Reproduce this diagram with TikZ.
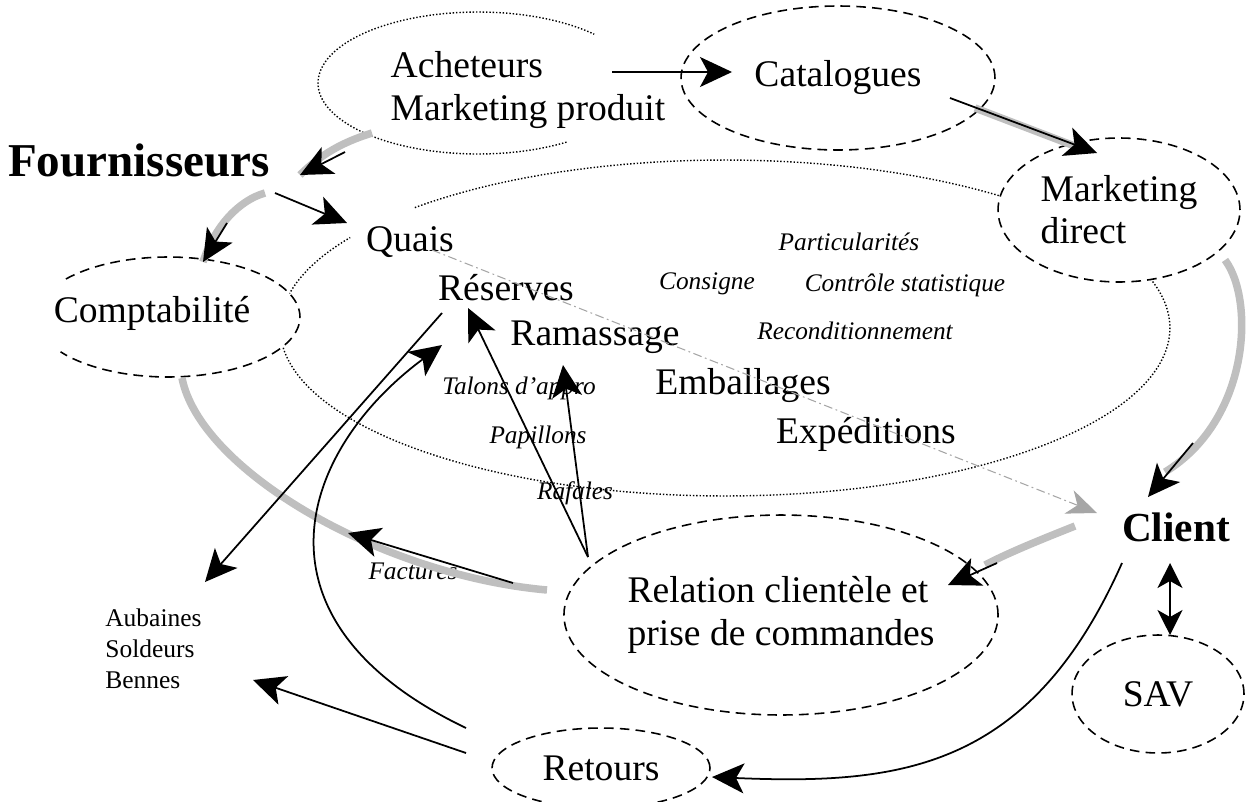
\documentclass[tikz,border=0pt]{standalone}
\usepackage{fontspec}
\setmainfont{Liberation Serif}
\usetikzlibrary{shapes.geometric, arrows.meta}
\tikzset{
>={Stealth[length=6.4mm, width=6mm, inset=1.6mm]}, % big solid arrow heads
every node/.style={inner sep=0pt}, % text sits right on its anchor
word/.style={font=\fontsize{21.4}{24}\selectfont}, % ordinary labels
note/.style={font=\fontsize{14.4}{17}\selectfont\itshape}, % small italic remarks
minor/.style={font=\fontsize{14.5}{17.6}\selectfont}, % small upright text
actor/.style={font=\bfseries}, % outside partners
dashline/.style={line width=0.9pt, dash pattern=on 5.5pt off 3.5pt},
dotline/.style={line width=0.8pt, dash pattern=on 0.8pt off 1.1pt},
oval/.style={ellipse, draw, dashline, word}, % the services
flow/.style={->, line width=1pt}, % black arrows
band/.style={line width=1.5mm, gray!50}, % the grey loop
route/.style={gray!70, line width=0.6pt, dash pattern=on 5pt off 2pt on 1pt off 2pt},
}
\begin{document}
\begin{tikzpicture}[x=0.02cm, y=-0.02cm]
        \useasboundingbox (0,0) rectangle (1247,801);
        % open outlines: warehouse and buyers
        \node[oval, draw=none, minimum width=17.8cm, minimum height=6.72cm] (depot) at (725,328) {};
        \node[oval, draw=none, minimum width=6.4cm, minimum height=2.84cm] (achov) at (478,83) {};
        \draw[dotline] ([shift={(134.2:8.9cm and 3.36cm)}]depot.center) arc[start angle=134.2, end angle=-212.6, x radius=8.9cm, y radius=3.36cm];
        \draw[dotline] ([shift={(-56.4:3.2cm and 1.42cm)}]achov.center) arc[start angle=-56.4, end angle=-316.6, x radius=3.2cm, y radius=1.42cm];
        \node[oval, draw=none, fill=white, minimum width=5.28cm, minimum height=2.4cm] (comp) at (168,317) {};
        \draw[dashline] ([shift={(140.7:2.64cm and 1.2cm)}]comp.center) arc[start angle=140.7, end angle=-144.5, x radius=2.64cm, y radius=1.2cm];
        % services
        \node[oval, minimum width=6.28cm, minimum height=2.88cm] (cat) at (838,78) {Catalogues};
        \node[oval, fill=white, align=left, minimum width=4.84cm, minimum height=2.88cm] (mkt) at (1119,210) {Marketing\\direct};
        \node[oval, align=left, minimum width=4.82cm, minimum height=4cm] (rel) at (781,615) {Relation clientèle et\\prise de commandes};
        \node[oval, minimum width=3.44cm, minimum height=2.36cm] (sav) at (1158,694) {SAV};
        \node[oval, minimum width=4.36cm, minimum height=1.6cm] (ret) at (601,768) {Retours};
        % texts
        \node[word, align=left] (ach) at (528,90) {Acheteurs\\Marketing produit};
        \node[word] (compt) at (152,313) {Comptabilité};
        \node[actor, font=\fontsize{26.8}{30}\selectfont\bfseries] (four) at (139,160) {Fournisseurs};
        \node[actor, font=\fontsize{23.5}{28}\selectfont\bfseries] (cli) at (1176,527) {Client};
        \node[word] (quai) at (410,242) {Quais};
        \node[word] (res) at (506,288) {Réserves};
        \node[word] (ram) at (595,337) {Ramassage};
        \node[word] (emb) at (743,386) {Emballages};
        \node[word] (exp) at (866,434) {Expéditions};
        \node[note] (part) at (849,242) {Particularités};
        \node[note] (cons) at (707,284) {Consigne};
        \node[note] (ctrl) at (905,285) {Contrôle statistique};
        \node[note] (recond) at (855,331) {Reconditionnement};
        \node[note] (tal) at (519,388) {Talons d’appro};
        \node[note] (pap) at (538,437) {Papillons};
        \node[note] (raf) at (575,493) {Rafales};
        \node[note] (fact) at (413,571) {Factures};
        \node[minor, anchor=west, align=left] (aub) at (105,649) {Aubaines\\Soldeurs\\Bennes};
        % connector ends
        \coordinate (achR) at (612,72);
        \coordinate (catL) at (732,72);
        \coordinate (catR) at (950,98);
        \coordinate (mktT) at (1097,153);
        \coordinate (achB) at (372,133);
        \coordinate (achF) at (345,152);
        \coordinate (fourR) at (300,175);
        \coordinate (fourB) at (265,193);
        \coordinate (fourQ) at (275,193);
        \coordinate (quaiL) at (347,223);
        \coordinate (compF) at (227,223);
        \coordinate (compT) at (203,262);
        \coordinate (compB) at (182,378);
        \coordinate (relL) at (547,590);
        \coordinate (relF) at (513,583);
        \coordinate (factA) at (348,533);
        \coordinate (mktR) at (1225,260);
        \coordinate (cliM) at (1193,443);
        \coordinate (cliT) at (1148,497);
        \coordinate (cliL) at (1075,526);
        \coordinate (cliR) at (997,563);
        \coordinate (relR) at (948,585);
        \coordinate (quaiS) at (432,250);
        \coordinate (cliG) at (1097,513);
        \coordinate (cliS) at (1170,563);
        \coordinate (savT) at (1170,635);
        \coordinate (cliD) at (1122,563);
        \coordinate (retR) at (712,777);
        \coordinate (retA) at (466,753);
        \coordinate (aubB) at (253,680);
        \coordinate (retB) at (466,728);
        \coordinate (resB) at (442,345);
        \coordinate (resL) at (442,313);
        \coordinate (aubT) at (205,582);
        \coordinate (relT) at (588,557);
        \coordinate (resA) at (468,308);
        \coordinate (ramB) at (563,365);
        % grey loop
        \draw[band]
        (achB) .. controls (350,140) and (325,150) .. (fourR)
        (fourB) .. controls (240,200) and (215,225) .. (compT)
        (compB) .. controls (200,470) and (380,575) .. (relL)
        (975,108) -- (1085,150)
        (mktR) .. controls (1255,300) and (1250,420) .. (1165,472)
        (cliL) .. controls (1040,540) and (1010,552) .. (985,565)
        ;
        \draw[route, -{Stealth[length=6mm, width=5mm, inset=1.8mm]}] (quaiS) -- (cliG);
        \path[flow]
        (achR) edge (catL)
        (catR) edge (mktT)
        (achF) edge (fourR)
        (fourQ) edge (quaiL)
        (compF) edge (compT)
        (relF) edge (factA)
        (cliM) edge (cliT)
        (cliR) edge (relR)
        (retA) edge (aubB)
        (resL) edge (aubT)
        (relT) edge (resA)
        (relT) edge (ramB)
        ;
        \draw[flow] (cliD) .. controls (1030,770) and (900,785) .. (retR);
        \draw[flow] (retB) .. controls (240,620) and (300,450) .. (resB);
        \draw[line width=1pt, {Stealth[length=5mm, width=5mm, inset=1.4mm]}-{Stealth[length=5mm, width=5mm, inset=1.4mm]}] (cliS) -- (savT);
    \end{tikzpicture}
\end{document}
